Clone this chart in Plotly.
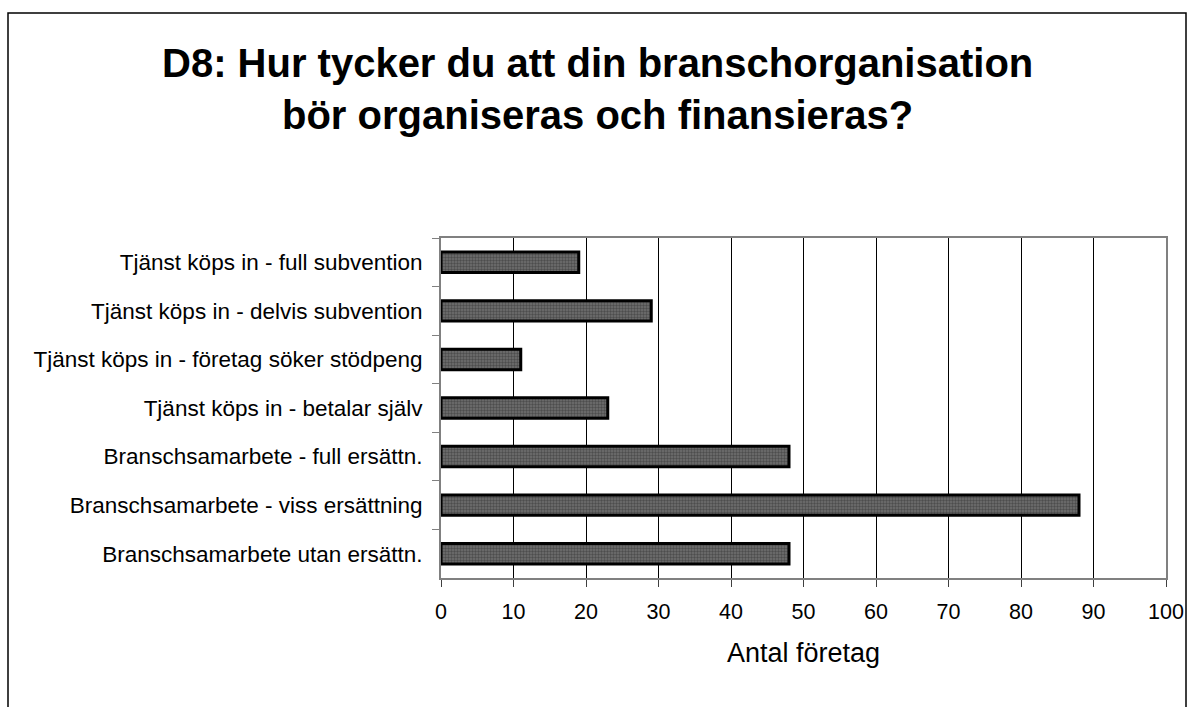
import plotly.graph_objects as go

categories = [
    "Tjänst köps in - full subvention",
    "Tjänst köps in - delvis subvention",
    "Tjänst köps in - företag söker stödpeng",
    "Tjänst köps in - betalar själv",
    "Branschsamarbete - full ersättn.",
    "Branschsamarbete - viss ersättning",
    "Branschsamarbete utan ersättn.",
]
values = [19, 29, 11, 23, 48, 88, 48]
x_ticks = [0, 10, 20, 30, 40, 50, 60, 70, 80, 90, 100]

W, H = 1188, 707
L, R, T, B = 441, 1166, 238, 578
pw, ph = R - L, B - T

def px(x):
    return (x - L) / pw

def py(y):
    return (B - y) / ph

fig = go.Figure()
fig.add_trace(go.Bar(
    y=categories, x=values, orientation="h", width=0.42,
    marker=dict(color="#6a6a6a", line=dict(color="black", width=3),
                pattern=dict(shape=".", fgcolor="#2a2a2a", bgcolor="#707070", size=3, solidity=0.5)),
    hoverinfo="x+y",
))

font = "Arial, Liberation Sans, sans-serif"
fig.update_layout(
    width=W, height=H,
    margin=dict(l=L, r=W - R, t=T, b=H - B, pad=0),
    paper_bgcolor="white", plot_bgcolor="white",
    showlegend=False,
    font=dict(family=font, color="black", size=22),
    xaxis=dict(range=[0, 100], tickvals=x_ticks, showgrid=True, gridcolor="black", gridwidth=1,
               showline=True, linecolor="#808080", linewidth=2, mirror=True,
               ticks="outside", ticklen=7, tickcolor="#404040", tickfont=dict(size=21.5),
               ticklabelstandoff=6, zeroline=False, fixedrange=True, automargin=False),
    yaxis=dict(categoryorder="array", categoryarray=categories, autorange="reversed",
               showline=True, linecolor="#808080", linewidth=2, mirror=True,
               ticks="outside", ticklen=7, tickcolor="#808080", tickson="boundaries",
               showgrid=False, tickfont=dict(size=22.5), ticklabelstandoff=12, fixedrange=True,
               automargin=False),
    annotations=[
        dict(text="<b>D8: Hur tycker du att din branschorganisation<br>bör organiseras och finansieras?</b>",
             xref="paper", yref="paper", x=px(597), y=py(89),
             xanchor="center", yanchor="middle", showarrow=False,
             font=dict(size=40, family=font), align="center"),
        dict(text="Antal företag", xref="paper", yref="paper", x=px(803), y=py(653),
             xanchor="center", yanchor="middle", showarrow=False,
             font=dict(size=27, family=font)),
    ],
    shapes=[dict(type="rect", xref="paper", yref="paper",
                 x0=px(8), x1=px(1186), y0=py(720), y1=py(13),
                 line=dict(color="black", width=1.5), fillcolor="rgba(0,0,0,0)", layer="below")],
)
fig.write_html("out.html", config={"displayModeBar": False},
               post_script="document.body.style.margin='0';document.body.style.overflow='hidden';")
